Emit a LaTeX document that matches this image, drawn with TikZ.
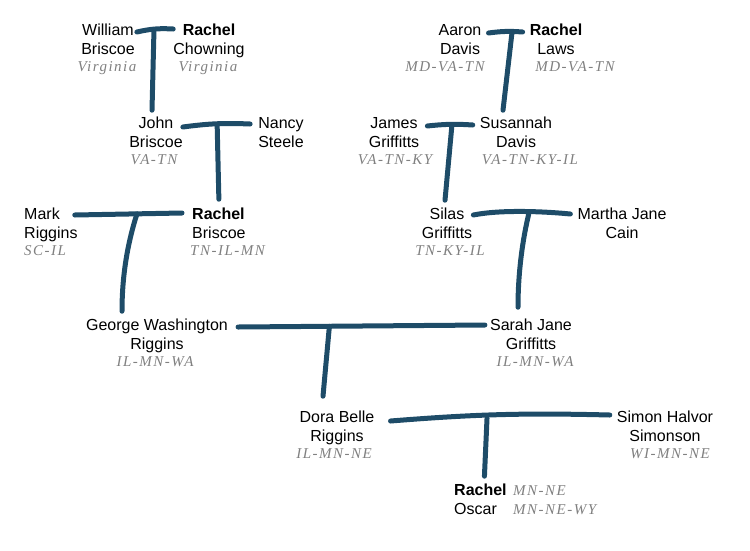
\documentclass[tikz,border=0pt]{standalone}
\usepackage{fontspec}
\setmainfont{Liberation Sans}
\newfontfamily\placefont{Liberation Serif}[LetterSpace=10]
\usetikzlibrary{calc}
\definecolor{barblue}{HTML}{1E4C68}

\tikzset{
  person/.style={align=center, inner sep=0pt, anchor=base, font=\fontsize{16}{19}\selectfont},
  place/.style={inner sep=0pt, anchor=base, text=gray, font=\placefont\itshape\fontsize{15}{19}\selectfont},
  tee/.style={draw=barblue, line width=5pt, line cap=round},
}

\begin{document}
\begin{tikzpicture}[x=1pt,y=-1pt]

\useasboundingbox (0,0) rectangle (750,550);

% oldest generation
\node[person] (wb) at (108,54) {William\\Briscoe};
\node[place] (wbp) at (107,71) {Virginia};
\node[person] (rc) at (209,54) {\textbf{Rachel}\\Chowning};
\node[place] (rcp) at (208,71) {Virginia};

\node[person] (ad) at (460,54) {Aaron\\Davis};
\node[place] (adp) at (445,71) {MD-VA-TN};
\node[person] (rl) at (556,54) {\textbf{Rachel}\\Laws};
\node[place] (rlp) at (575,71) {MD-VA-TN};

% second row
\node[person] (jb) at (156,147) {John\\Briscoe};
\node[place] (jbp) at (154,164) {VA-TN};
\node[person] (ns) at (281,147) {Nancy\\Steele};

\node[person] (jg) at (394,147) {James\\Griffitts};
\node[place] (jgp) at (395,164) {VA-TN-KY};
\node[person] (sd) at (516,147) {Susannah\\Davis};
\node[place] (sdp) at (530,164) {VA-TN-KY-IL};

% third row
\node[person, align=left, anchor=base west] (mr) at (24,238) {Mark\\Riggins};
\node[place, anchor=base west] (mrp) at (24,255) {SC-IL};
\node[person, align=left, anchor=base west] (rb) at (192,238) {\textbf{Rachel}\\Briscoe};
\node[place, anchor=base west] (rbp) at (190,255) {TN-IL-MN};

\node[person] (sg) at (447,238) {Silas\\Griffitts};
\node[place] (sgp) at (450,255) {TN-KY-IL};
\node[person] (mj) at (622,238) {Martha Jane\\Cain};

% fourth row
\node[person] (gw) at (157,349) {George Washington\\Riggins};
\node[place] (gwp) at (155,366) {IL-MN-WA};
\node[person] (sj) at (531,349) {Sarah Jane\\Griffitts};
\node[place] (sjp) at (535,366) {IL-MN-WA};

% fifth row
\node[person] (db) at (337,441) {Dora Belle\\Riggins};
\node[place] (dbp) at (334,458) {IL-MN-NE};
\node[person] (sh) at (665,441) {Simon Halvor\\Simonson};
\node[place] (shp) at (670,458) {WI-MN-NE};

% children
\node[person, align=left, anchor=base west] (ro) at (454,514) {\textbf{Rachel}\\Oscar};
\node[place, align=left, anchor=base west] (rop) at (513,514) {MN-NE\\MN-NE-WY};

% bar ends
\coordinate (t1a) at ([shift={(2,-22)}]wb.base east);
\coordinate (t1b) at ([shift={(0,-25)}]rc.base west);
\coordinate (t2a) at ([shift={(0,-20)}]jb.base east);
\coordinate (t2b) at ([shift={(-8,-23)}]ns.base west);
\coordinate (t3a) at ([shift={(-3,-23)}]mr.base east);
\coordinate (t3b) at ([shift={(-10,-25)}]rb.base west);
\coordinate (t4a) at ([shift={(10,-22)}]gw.base east);
\coordinate (t4b) at ([shift={(-5,-24)}]sj.base west);
\coordinate (t5a) at ([shift={(7,-21)}]ad.base east);
\coordinate (t5b) at ([shift={(-7,-22)}]rl.base west);
\coordinate (t6a) at ([shift={(8,-21)}]jg.base east);
\coordinate (t6b) at ([shift={(-7,-22)}]sd.base west);
\coordinate (t7a) at ([shift={(1,-23)}]sg.base east);
\coordinate (t7b) at ([shift={(-7,-24)}]mj.base west);
\coordinate (t8a) at ([shift={(16,-20)}]db.base east);
\coordinate (t8b) at ([shift={(-7,-26)}]sh.base west);

% couples and their children
\draw[tee] (t1a) to[bend left=8] (t1b);
\draw[tee] ($(t1a)!0.47!(t1b)$) -- ([shift={(-4,-6)}]jb.north);

\draw[tee] (t2a) to[bend left=5] (t2b);
\draw[tee] ($(t2a)!0.51!(t2b)$) -- ([shift={(0,-8)}]rb.north);

\draw[tee] (t5a) to[bend left=6] (t5b);
\draw[tee] ($(t5a)!0.69!(t5b)$) -- ([shift={(-13,-6)}]sd.north);

\draw[tee] (t6a) to[bend left=5] (t6b);
\draw[tee] ($(t6a)!0.54!(t6b)$) -- ([shift={(-2,-7)}]sg.north);

\draw[tee] (t3a) -- (t3b);
\draw[tee] ($(t3a)!0.58!(t3b)$) .. controls +(-8,25) and +(0,-40) .. ([shift={(-35,-7)}]gw.north);

\draw[tee] (t7a) .. controls +(30,-6) and +(-20,-2) .. (t7b);
\draw[tee] ($(t7a)!0.57!(t7b)$) .. controls +(-6,25) and +(0,-35) .. ([shift={(-13,-11)}]sj.north);

\draw[tee] (t4a) -- (t4b);
\draw[tee] ($(t4a)!0.37!(t4b)$) -- ([shift={(-14,-14)}]db.north);

\draw[tee] (t8a) to[bend left=3] (t8b);
\draw[tee] ($(t8a)!0.44!(t8b)$) -- ([shift={(4,-7)}]ro.north);

\end{tikzpicture}
\end{document}
